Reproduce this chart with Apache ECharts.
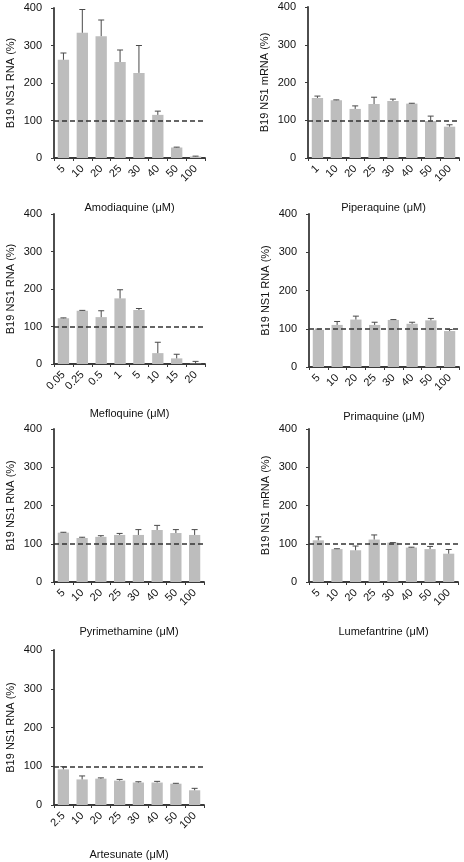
<!DOCTYPE html>
<html>
<head>
<meta charset="utf-8">
<script src="https://cdn.jsdelivr.net/npm/echarts@6/dist/echarts.min.js"></script>
<style>html,body{margin:0;padding:0;background:#fff}#c{width:464px;height:862px}</style>
</head>
<body>
<div id="c"></div>
<script>
// ---- data ----
const yTicks = [0, 100, 200, 300, 400];
const referenceLevel = 100;

const amodiaquineDoses = ['5','10','20','25','30','40','50','100'];
const amodiaquineMean  = [262, 334, 325, 256, 227, 115, 28, 4];
const amodiaquineSD    = [18, 62, 43, 32, 73, 10, 1, 1];

const piperaquineDoses = ['1','10','20','25','30','40','50','100'];
const piperaquineMean  = [159, 153, 130, 143, 151, 144, 98, 83];
const piperaquineSD    = [5, 1, 8, 18, 5, 1, 13, 5];

const mefloquineDoses = ['0.05','0.25','0.5','1','5','10','15','20'];
const mefloquineMean  = [122, 142, 125, 175, 144, 29, 15, 1];
const mefloquineSD    = [1, 1, 17, 23, 4, 29, 11, 6];

const primaquineDoses = ['5','10','20','25','30','40','50','100'];
const primaquineMean  = [97, 110, 124, 110, 123, 113, 122, 94];
const primaquineSD    = [2, 9, 9, 7, 1, 4, 5, 4];

const pyrimethamineDoses = ['5','10','20','25','30','40','50','100'];
const pyrimethamineMean  = [129, 115, 118, 123, 123, 136, 128, 123];
const pyrimethamineSD    = [1, 2, 3, 4, 14, 12, 9, 14];

const lumefantrineDoses = ['5','10','20','25','30','40','50','100'];
const lumefantrineMean  = [109, 86, 83, 111, 103, 90, 86, 74];
const lumefantrineSD    = [9, 1, 11, 12, 0, 1, 7, 11];

const artesunateDoses = ['2.5','10','20','25','30','40','50','100'];
const artesunateMean  = [92, 66, 68, 63, 58, 58, 55, 38];
const artesunateSD    = [7, 9, 2, 3, 2, 3, 1, 5];

const panels = [
  {drug:'Amodiaquine (μM)',   yName:'B19 NS1 RNA (%)',  doses:amodiaquineDoses,   mean:amodiaquineMean,   sd:amodiaquineSD},
  {drug:'Piperaquine (μM)',   yName:'B19 NS1 mRNA (%)', doses:piperaquineDoses,   mean:piperaquineMean,   sd:piperaquineSD},
  {drug:'Mefloquine (μM)',    yName:'B19 NS1 RNA (%)',  doses:mefloquineDoses,    mean:mefloquineMean,    sd:mefloquineSD},
  {drug:'Primaquine (μM)',    yName:'B19 NS1 RNA (%)',  doses:primaquineDoses,    mean:primaquineMean,    sd:primaquineSD},
  {drug:'Pyrimethamine (μM)', yName:'B19 NS1 RNA (%)',  doses:pyrimethamineDoses, mean:pyrimethamineMean, sd:pyrimethamineSD},
  {drug:'Lumefantrine (μM)',  yName:'B19 NS1 mRNA (%)', doses:lumefantrineDoses,  mean:lumefantrineMean,  sd:lumefantrineSD},
  {drug:'Artesunate (μM)',    yName:'B19 NS1 RNA (%)',  doses:artesunateDoses,    mean:artesunateMean,    sd:artesunateSD}
];

// ---- layout (positions only) ----
const boxes = [
  {left:54,  top:8,   width:151, height:150},
  {left:308, top:7,   width:151, height:151},
  {left:54,  top:214, width:151, height:150},
  {left:309, top:214, width:150, height:153},
  {left:54,  top:429, width:150, height:153},
  {left:309, top:429, width:149, height:153},
  {left:54,  top:650, width:150, height:155}
];

const FONT = 'Liberation Sans, Arial, sans-serif';
const axisCol = '#3a3a3a';
const barCol = '#bdbdbd';
const errCol = '#4a4a4a';

const grid = [], xAxis = [], yAxis = [], series = [];
panels.forEach((p, i) => {
  grid.push(Object.assign({containLabel:false}, boxes[i]));
  xAxis.push({
    type:'category', gridIndex:i, data:p.doses,
    name:p.drug, nameLocation:'middle', nameGap:44,
    nameTextStyle:{fontFamily:FONT, fontSize:11, color:'#111'},
    axisLine:{lineStyle:{color:axisCol, width:1.8}},
    axisTick:{show:true, length:3, alignWithLabel:false, lineStyle:{color:axisCol, width:1}},
    axisLabel:{rotate:45, fontFamily:FONT, fontSize:11, color:'#111', margin:9, interval:0}
  });
  yAxis.push({
    type:'value', gridIndex:i, min:yTicks[0], max:yTicks[yTicks.length-1], interval:100,
    name:p.yName, nameLocation:'middle', nameGap:38, nameRotate:90,
    nameTextStyle:{fontFamily:FONT, fontSize:11, color:'#111'},
    axisLine:{show:true, lineStyle:{color:axisCol, width:1.8}},
    axisTick:{show:true, length:3, lineStyle:{color:axisCol, width:1}},
    axisLabel:{fontFamily:FONT, fontSize:11, color:'#111', margin:12},
    splitLine:{show:false}
  });
  series.push({
    type:'bar', xAxisIndex:i, yAxisIndex:i, data:p.mean, barWidth:'60%',
    itemStyle:{color:barCol}, silent:true, animation:false,
    markLine:{
      silent:true, symbol:'none', animation:false,
      label:{show:false},
      lineStyle:{color:'#333', width:1.5, type:[5,3]},
      data:[{yAxis:referenceLevel}]
    }
  });
  series.push({
    type:'custom', xAxisIndex:i, yAxisIndex:i, animation:false, silent:true, z:5,
    data:p.mean.map((m, k) => [k, m, m + p.sd[k]]),
    encode:{x:0, y:[1,2]},
    renderItem:function(params, api){
      const b = api.coord([api.value(0), api.value(1)]);
      const t = api.coord([api.value(0), api.value(2)]);
      const s = {stroke:errCol, lineWidth:1};
      return {type:'group', children:[
        {type:'line', shape:{x1:b[0], y1:b[1], x2:t[0], y2:t[1]}, style:s},
        {type:'line', shape:{x1:t[0]-3, y1:t[1], x2:t[0]+3, y2:t[1]}, style:s}
      ]};
    }
  });
});

const chart = echarts.init(document.getElementById('c'), null, {renderer:'canvas'});
chart.setOption({animation:false, backgroundColor:'#fff', grid, xAxis, yAxis, series});
</script>
</body>
</html>
